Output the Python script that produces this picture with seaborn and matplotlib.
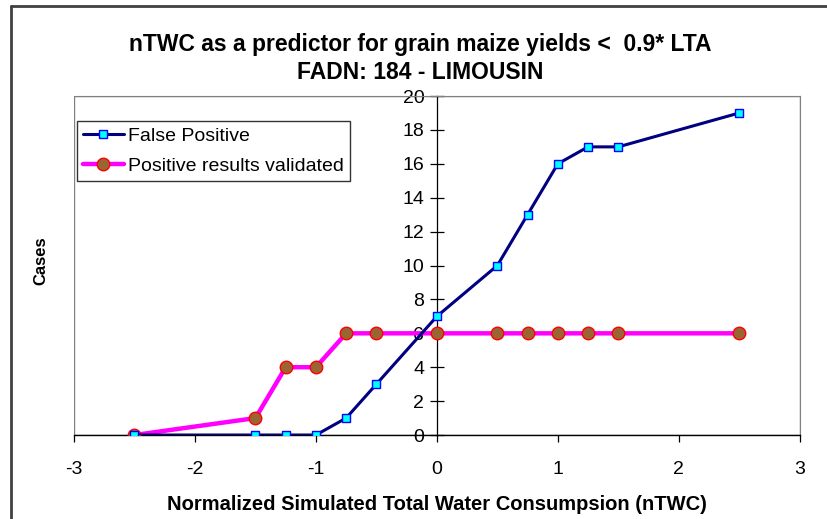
import seaborn as sns
import matplotlib.pyplot as plt
from matplotlib.lines import Line2D
from matplotlib.patches import Rectangle

# data
ntwc = [-2.5, -1.5, -1.25, -1.0, -0.75, -0.5, 0.0, 0.5, 0.75, 1.0, 1.25, 1.5, 2.5]
false_positive = [0, 0, 0, 0, 1, 3, 7, 10, 13, 16, 17, 17, 19]
validated = [0, 1, 4, 4, 6, 6, 6, 6, 6, 6, 6, 6, 6]

x_ticks = [-3, -2, -1, 0, 1, 2, 3]
y_ticks = [0, 2, 4, 6, 8, 10, 12, 14, 16, 18, 20]

sns.set_style('white')
plt.rcParams['font.family'] = ['Liberation Sans', 'DejaVu Sans']
plt.rcParams['axes.unicode_minus'] = False
plt.rcParams['text.color'] = 'black'
plt.rcParams['xtick.color'] = 'black'
plt.rcParams['ytick.color'] = 'black'
plt.rcParams['axes.labelcolor'] = 'black'

fig = plt.figure(figsize=(8.27, 5.19), dpi=100)
ax = fig.add_axes([0.0895, 0.1618, 0.8775, 0.6532])

# magenta line with brown dots
sns.lineplot(x=ntwc, y=validated, ax=ax, color='#ff00ff', linewidth=3.2,
             marker='o', markersize=9, markerfacecolor='#996633',
             markeredgecolor='#ff0000', markeredgewidth=1.0, zorder=3)
# navy line with cyan squares
sns.lineplot(x=ntwc, y=false_positive, ax=ax, color='#000080', linewidth=2.2,
             marker='s', markersize=6, markerfacecolor='#00ffff',
             markeredgecolor='#0000ff', markeredgewidth=1.0, zorder=4)

ax.set_xlim(-3, 3)
ax.set_ylim(0, 20)
ax.set_xticks(x_ticks)
ax.set_yticks(y_ticks)

# y axis drawn through x=0, plot area has a grey frame
ax.spines['left'].set_position(('data', 0))
ax.spines['left'].set_color('black')
ax.spines['left'].set_linewidth(0.9)
ax.spines['bottom'].set_color('black')
ax.spines['bottom'].set_linewidth(1.0)
ax.spines['top'].set_color('#808080')
ax.spines['right'].set_color('#808080')
ax.add_patch(Rectangle((0, 0), 1, 1, transform=ax.transAxes, fill=False,
                       edgecolor='#808080', linewidth=1.0, zorder=0))
ax.tick_params(axis='y', direction='inout', length=10, width=0.9, left=True,
               pad=4, labelsize=14, colors='black')
ax.tick_params(axis='x', direction='out', length=5, width=0.9, bottom=True,
               pad=14, labelsize=14, colors='black')

ax.set_xlabel('Normalized Simulated Total Water Consumpsion (nTWC)',
              fontsize=14.5, fontweight='bold', va='top', color='black')
ax.xaxis.set_label_coords(0.5, -0.178)
ax.set_ylabel('')
fig.text(0.0496, 0.497, 'Cases', rotation=90, fontsize=12, fontweight='bold',
         ha='center', va='center', color='black')

fig.text(0.508, 0.914, 'nTWC as a predictor for grain maize yields <  0.9* LTA',
         fontsize=16.5, fontweight='bold', ha='center', va='center', color='black')
fig.text(0.508, 0.86, 'FADN: 184 - LIMOUSIN',
         fontsize=16.5, fontweight='bold', ha='center', va='center', color='black')

handles = [
    Line2D([], [], color='#000080', linewidth=2.2, marker='s', markersize=6,
           markerfacecolor='#00ffff', markeredgecolor='#0000ff'),
    Line2D([], [], color='#ff00ff', linewidth=3.2, marker='o', markersize=9,
           markerfacecolor='#996633', markeredgecolor='#ff0000'),
]
leg = ax.legend(handles, ['False Positive', 'Positive results validated'],
                loc='upper left', bbox_to_anchor=(0.004, 0.926), fontsize=14,
                frameon=True, fancybox=False, edgecolor='black',
                handlelength=2.1, handletextpad=0.25, borderpad=0.3,
                labelspacing=0.65, borderaxespad=0)
leg.get_frame().set_linewidth(1.0)
for t in leg.get_texts():
    t.set_color('black')

# outer chart frame (only top and left edges are visible)
fig.add_artist(Line2D([0.0127, 0.0127], [0, 0.989], color='#404040', linewidth=2,
                      transform=fig.transFigure))
fig.add_artist(Line2D([0.0127, 1], [0.989, 0.989], color='#404040', linewidth=2,
                      transform=fig.transFigure))

fig.savefig('out.png', dpi=100)
